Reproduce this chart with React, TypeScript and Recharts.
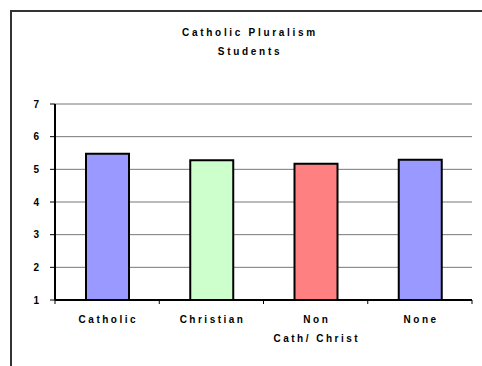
import React from "react";
import { BarChart, Bar, XAxis, YAxis, CartesianGrid, Cell } from "recharts";

// Category names, their mean scores and fill colours
const categories = ["Catholic", "Christian", "Non\nCath/ Christ", "None"];
const scores = [5.48, 5.28, 5.17, 5.29];
const colors = ["#9999FF", "#CCFFCC", "#FF8080", "#9999FF"];
const yTicks = [1, 2, 3, 4, 5, 6, 7];
const boundaryTicks = [0, 1, 2, 3, 4];

const data = categories.map((name, i) => ({ name, score: scores[i], pos: i + 0.5 }));

const FONT = "'Liberation Sans', Arial, Helvetica, sans-serif";

const CategoryTick = (props: any) => {
  const { x, y, payload } = props;
  const lines = String(payload.value).split("\n");
  return (
    <text
      x={x}
      y={y}
      textAnchor="middle"
      fontFamily={FONT}
      fontWeight="bold"
      fontSize={10}
      fill="#000"
      style={{ letterSpacing: "2.5px" }}
    >
      {lines.map((l, i) => (
        <tspan key={i} x={x + 1.2} y={y + 7 + i * 19}>
          {l}
        </tspan>
      ))}
    </text>
  );
};

// Separator marks between categories, drawn upward from the label anchor to the axis
const EdgeTick = (props: any) => {
  const { x, y } = props;
  return <line x1={x} x2={x} y1={y - 6} y2={y - 2} stroke="#000" strokeWidth={1} />;
};

export default function App() {
  return (
    <div style={{ position: "absolute", left: 0, top: 0, width: 482, height: 366, background: "#fff", overflow: "hidden" }}>
      <div
        style={{
          position: "absolute",
          left: 10,
          top: 10,
          width: 500,
          height: 400,
          borderLeft: "2px solid #333",
          borderTop: "2px solid #333",
        }}
      />
      <div
        style={{
          position: "absolute",
          left: 9,
          top: 23,
          width: 482,
          textAlign: "center",
          fontFamily: FONT,
          fontWeight: "bold",
          fontSize: 10,
          letterSpacing: "2.7px",
          lineHeight: "19px",
          color: "#000",
        }}
      >
        <div>Catholic Pluralism</div>
        <div>Students</div>
      </div>
      <div style={{ position: "absolute", left: 0, top: 0 }}>
        <BarChart
          width={482}
          height={366}
          data={data}
          margin={{ top: 104, right: 10, bottom: 26, left: 0 }}
          barSize={43}
        >
          <CartesianGrid xAxisId="cat" horizontal vertical={false} stroke="#777" strokeWidth={1} />
          <XAxis
            xAxisId="cat"
            dataKey="name"
            height={32}
            axisLine={false}
            tickLine={false}
            interval={0}
            tick={<CategoryTick />}
          />
          <XAxis
            xAxisId={0}
            type="number"
            dataKey="pos"
            domain={[0, 4]}
            ticks={boundaryTicks}
            height={8}
            tick={<EdgeTick />}
            tickSize={4}
            tickMargin={2}
            tickLine={false}
            axisLine={{ stroke: "#000", strokeWidth: 2 }}
            allowDataOverflow
          />
          <YAxis
            domain={[1, 7]}
            ticks={yTicks}
            width={55}
            tickSize={5}
            tickMargin={11}
            axisLine={{ stroke: "#000", strokeWidth: 2 }}
            tickLine={{ stroke: "#000" }}
            tick={{ fontFamily: FONT, fontWeight: "bold", fontSize: 10, fill: "#000" }}
          />
          <YAxis
            yAxisId="frame"
            orientation="right"
            domain={[1, 7]}
            width={0}
            tick={false}
            tickLine={false}
            axisLine={{ stroke: "#777", strokeWidth: 2 }}
          />
          <Bar xAxisId="cat" dataKey="score" stroke="#000" strokeWidth={2} isAnimationActive={false}>
            {data.map((d, i) => (
              <Cell key={d.name} fill={colors[i]} />
            ))}
          </Bar>
        </BarChart>
      </div>
    </div>
  );
}
